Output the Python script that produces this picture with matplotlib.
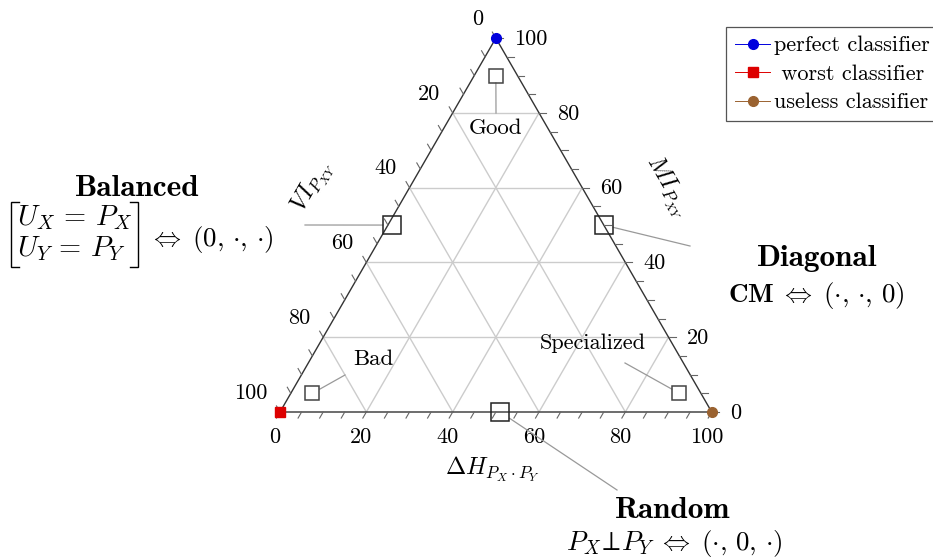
import numpy as np
import matplotlib
matplotlib.use('Agg')
import matplotlib.pyplot as plt

plt.rcParams['mathtext.fontset'] = 'cm'
plt.rcParams['font.family'] = 'cmr10'
plt.rcParams['axes.unicode_minus'] = False

# ---------------- data ----------------
tick_values = [0, 20, 40, 60, 80, 100]
minor_ticks = list(range(0, 101, 5))
grid_values = [20, 40, 60, 80]

# reference classifiers (ΔH, MI) ; VI = 100 - ΔH - MI
ref_names = ['perfect classifier', 'worst classifier', 'useless classifier']
ref_dh = [0, 0, 100]
ref_mi = [100, 0, 0]
ref_colors = ['#0000dd', '#dd0000', '#9a6230']
ref_markers = ['o', 's', 'o']

# regions (ΔH, MI)
region_names = ['Balanced', 'Diagonal', 'Random', 'Good', 'Bad', 'Specialized']
region_dh = [1, 50, 51, 5, 5, 90]
region_mi = [50, 50, 0, 90, 5, 5]
region_big = [True, True, True, False, False, False]

# ---------------- helpers ----------------
S3 = np.sqrt(3) / 2
PX = 4.317          # pixels per ternary unit
X0, Y0 = 280, 412   # pixel position of the (ΔH=0, MI=0) corner


def tern(dh, mi):
    return dh + mi / 2.0, mi * S3


def pix(px, py):
    return (px - X0) / PX, (Y0 - py) / PX


fig = plt.figure(figsize=(9.33, 5.59), dpi=100)
ax = fig.add_axes([0, 0, 1, 1])
ax.set_xlim(pix(0, 0)[0], pix(933, 0)[0])
ax.set_ylim(pix(0, 559)[1], pix(0, 0)[1])
ax.axis('off')

grid_c = '#cccccc'
for v in grid_values:
    for (a, b) in [((0, v), (100 - v, v)),          # const MI
                   ((v, 0), (v, 100 - v)),          # const ΔH
                   ((100 - v, 0), (0, 100 - v))]:   # const VI
        p, q = tern(*a), tern(*b)
        ax.plot([p[0], q[0]], [p[1], q[1]], color=grid_c, lw=1.0, zorder=1)

# triangle edges
corners = [tern(0, 0), tern(100, 0), tern(0, 100), tern(0, 0)]
ax.plot([c[0] for c in corners], [c[1] for c in corners], color='#333333', lw=1.0, zorder=2)

# ticks
L = 7 / PX
tick_c = '#666666'
for v in minor_ticks:
    x, y = tern(v, 0)
    ax.plot([x, x - 0.5 * L], [y, y - S3 * L], color=tick_c, lw=0.8, zorder=2)
    x, y = tern(100 - v, v)
    ax.plot([x, x + L], [y, y], color=tick_c, lw=0.8, zorder=2)
    x, y = tern(0, 100 - v)
    ax.plot([x, x - 0.5 * L], [y, y + S3 * L], color=tick_c, lw=0.8, zorder=2)

# tick labels
fs_tick = 16
for v in tick_values:
    x, y = tern(v, 0)
    ax.text(x - 5 / PX, y - 25 / PX, str(v), ha='center', va='center', fontsize=fs_tick)
    x, y = tern(100 - v, v)
    ax.text(x + 18 / PX, y - 1 / PX, str(v), ha='left', va='center', fontsize=fs_tick)
    x, y = tern(0, 100 - v)
    ax.text(x - 13 / PX, y + 19 / PX, str(v), ha='right', va='center', fontsize=fs_tick)

# axis labels
ax.text(*pix(493, 469), r'$\Delta H_{P_X\cdot P_Y}$', ha='center', va='center', fontsize=17.5)
ax.text(*pix(313, 186), r'$VI_{P_{XY}}$', ha='center', va='center', fontsize=17.5, rotation=60)
ax.text(*pix(667, 187), r'$MI_{P_{XY}}$', ha='center', va='center', fontsize=17.5, rotation=-60)

# reference classifiers
for n, dh, mi, c, m in zip(ref_names, ref_dh, ref_mi, ref_colors, ref_markers):
    x, y = tern(dh, mi)
    lab = ' ' + n if n.startswith('worst') else n
    ax.plot([x], [y], color=c, marker=m, ms=7, lw=0.7, label=lab, zorder=5, clip_on=False)

# region squares + leader lines
leader_end = {
    'Balanced': (305, 225),
    'Diagonal': (690, 246),
    'Random': (617, 490),
    'Good': (496, 113),
    'Bad': (345, 375),
    'Specialized': (625, 363),
}
for n, dh, mi, big in zip(region_names, region_dh, region_mi, region_big):
    x, y = tern(dh, mi)
    ms = 13 if big else 10
    ec = '#222222' if big else '#444444'
    ax.plot([x], [y], marker='s', ms=ms, mfc='none', mec=ec, mew=1.1, zorder=4)
    ex, ey = pix(*leader_end[n])
    dx, dy = ex - x, ey - y
    h = (ms / 0.72 / 2 + 0.5) / PX
    t = h / max(abs(dx), abs(dy))
    ax.plot([x + t * dx, ex], [y + t * dy, ey], color='#999999', lw=0.9, zorder=3)

# region labels
fs_lab = 16.5
ax.text(*pix(496, 128), 'Good', ha='center', va='center', fontsize=fs_lab)
ax.text(*pix(373, 359), 'Bad', ha='center', va='center', fontsize=fs_lab)
ax.text(*pix(593, 343), 'Specialized', ha='center', va='center', fontsize=16)

fs_big = 22.5
fs_mat = 20.5
fs_math = 19.5
# Balanced
ax.text(*pix(137, 189), 'Balanced', ha='center', va='center', fontsize=fs_big, family='cmb10')
ax.text(*pix(17, 225), r'$U_X\,=\,P_X$', ha='left', va='baseline', fontsize=fs_mat)
ax.text(*pix(17, 256), r'$U_Y\,=\,P_Y$', ha='left', va='baseline', fontsize=fs_mat)
for bx, sx in [(10.5, 8), (137.5, -8)]:
    xs = [bx + sx, bx, bx, bx + sx]
    ys = [202, 202, 267, 267]
    pts = [pix(a, b) for a, b in zip(xs, ys)]
    ax.plot([p[0] for p in pts], [p[1] for p in pts], color='black', lw=1.0,
            solid_joinstyle='miter', zorder=3)
ax.text(*pix(149, 246), r'$\Leftrightarrow\;(0,\,{\cdot},\,{\cdot})$',
        ha='left', va='baseline', fontsize=fs_math)

# Diagonal
ax.text(*pix(817, 259), 'Diagonal', ha='center', va='center', fontsize=fs_big, family='cmb10')
ax.text(*pix(816, 302), r'$\mathbf{CM}\;\Leftrightarrow\;({\cdot},\,{\cdot},\,0)$',
        ha='center', va='baseline', fontsize=fs_math)
# Random
ax.text(*pix(673, 510), 'Random', ha='center', va='center', fontsize=fs_big, family='cmb10')
ax.text(*pix(674, 550), r'$P_X\!\perp\!P_Y\;\Leftrightarrow\;({\cdot},\,0,\,{\cdot})$',
        ha='center', va='baseline', fontsize=fs_math)

leg = ax.legend(loc='upper left', bbox_to_anchor=(726 / 933, 1 - 27 / 559),
                bbox_transform=fig.transFigure, fontsize=16, frameon=True, fancybox=False,
                edgecolor='#555555', framealpha=1, handlelength=1.6, handletextpad=0.15,
                borderpad=0.4, labelspacing=0.4, borderaxespad=0)
leg.get_frame().set_linewidth(0.9)

fig.savefig('out.png', dpi=100)
